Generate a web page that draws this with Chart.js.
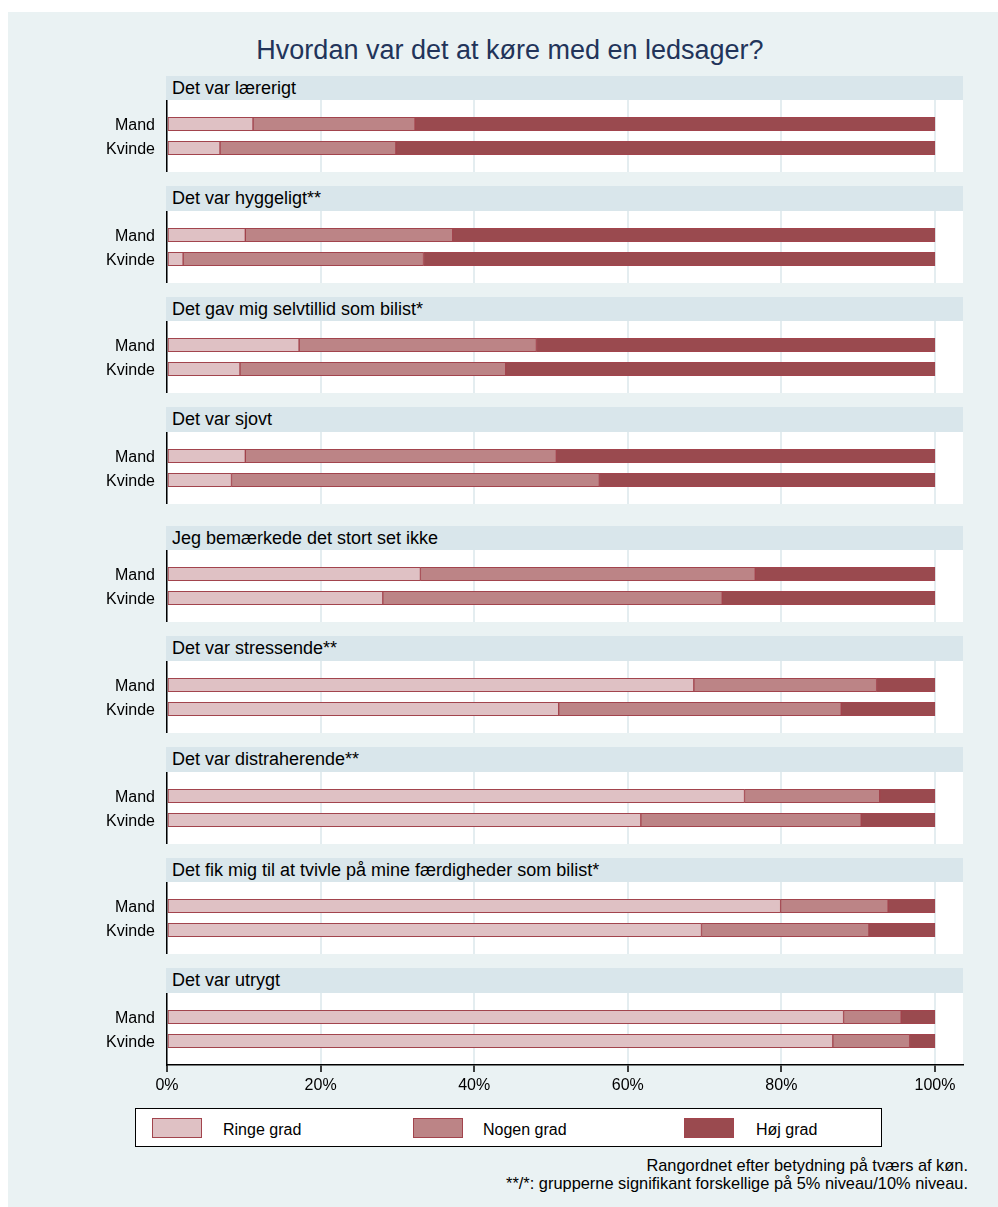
<!DOCTYPE html>
<html>
<head>
<meta charset="utf-8">
<script src="https://cdn.jsdelivr.net/npm/chart.js@4/dist/chart.umd.min.js"></script>
<style>
  body { margin: 0; background: #fff; font-family: "Liberation Sans", Arial, sans-serif; }
  #bg { position: absolute; left: 8px; top: 12px; width: 990px; height: 1195px; background: #eaf2f3; }
  #title { position: absolute; left: 210px; top: 35px; width: 600px; text-align: center;
           font-size: 27px; line-height: 30px; color: #22345a; white-space: nowrap; }
  .hdr { position: absolute; left: 166px; width: 797px; height: 24.5px; background: #d9e6eb;
         font-size: 18px; line-height: 24.5px; padding-left: 6px; box-sizing: border-box; color: #000; }
  #legend { position: absolute; left: 135px; top: 1108px; width: 747px; height: 39px;
            background: #fff; border: 1.5px solid #000; box-sizing: border-box; }
  .key { position: absolute; top: 8.5px; width: 50px; height: 20px; box-sizing: border-box; border: 1px solid #a2444d; }
  .ktxt { position: absolute; top: 10.5px; font-size: 16px; line-height: 19px; color: #000; }
  #notes { position: absolute; right: 30px; top: 1156px; text-align: right; font-size: 16.4px; line-height: 18px; color: #000; }
  canvas { position: absolute; left: 0; }
</style>
</head>
<body>
<div id="bg"></div>
<div id="title">Hvordan var det at køre med en ledsager?</div>
<div id="legend"></div>
<div id="notes">Rangordnet efter betydning på tværs af køn.<br>**/*: grupperne signifikant forskellige på 5% niveau/10% niveau.</div>

<script>
// --- data ---
const questions = [
  "Det var lærerigt",
  "Det var hyggeligt**",
  "Det gav mig selvtillid som bilist*",
  "Det var sjovt",
  "Jeg bemærkede det stort set ikke",
  "Det var stressende**",
  "Det var distraherende**",
  "Det fik mig til at tvivle på mine færdigheder som bilist*",
  "Det var utrygt",
];
const groups = ["Mand", "Kvinde"];
const levels = ["Ringe grad", "Nogen grad", "Høj grad"];

const ringeMand   = [11.2, 10.2, 17.2, 10.2, 33.0, 68.6, 75.2, 79.9, 88.1];
const ringeKvinde = [ 6.9,  2.1,  9.5,  8.4, 28.1, 51.0, 61.7, 69.6, 86.7];
const nogenMand   = [21.1, 27.0, 30.9, 40.5, 43.6, 23.8, 17.6, 14.0,  7.5];
const nogenKvinde = [22.9, 31.3, 34.6, 47.9, 44.2, 36.8, 28.7, 21.8, 10.0];
const hojMand     = [67.7, 62.8, 51.9, 49.3, 23.4,  7.6,  7.2,  6.1,  4.4];
const hojKvinde   = [70.2, 66.6, 55.9, 43.7, 27.7, 12.2,  9.6,  8.6,  3.3];

const xTicks = [0, 20, 40, 60, 80, 100];

// --- styling ---
const levelColors = ["#dfc1c4", "#bc8486", "#9a4a4f"];
const edgeColor = "#a2444d";
const headerTops = [75.5, 186, 296.5, 407, 525.7, 636.3, 747, 857.5, 968];
const HEADER_H = 24.5;
const PLOT_H = 72;
const AXIS_H = 38;
const X_MAX = 103.65;

Chart.defaults.font.family = '"Liberation Sans", Arial, sans-serif';
Chart.defaults.color = "#000";

const mandVals = [ringeMand, nogenMand, hojMand];
const kvindeVals = [ringeKvinde, nogenKvinde, hojKvinde];

const whiteArea = {
  id: "whiteArea",
  beforeDraw(chart) {
    const { ctx, chartArea: a } = chart;
    ctx.save();
    ctx.fillStyle = "#fff";
    ctx.fillRect(a.left, a.top, a.right - a.left, a.bottom - a.top);
    ctx.restore();
  },
};

function makePanel(i) {
  const last = i === questions.length - 1;

  const hdr = document.createElement("div");
  hdr.className = "hdr";
  hdr.style.top = headerTops[i] + "px";
  hdr.textContent = questions[i];
  document.body.appendChild(hdr);

  const canvas = document.createElement("canvas");
  canvas.width = 980;
  canvas.height = PLOT_H + (last ? AXIS_H : 0);
  canvas.style.top = headerTops[i] + HEADER_H + "px";
  document.body.appendChild(canvas);

  new Chart(canvas, {
    type: "bar",
    data: {
      labels: ["", ...groups, ""],
      datasets: levels.map((lv, k) => ({
        label: lv,
        data: [null, mandVals[k][i], kvindeVals[k][i], null],
        backgroundColor: levelColors[k],
        borderColor: edgeColor,
        borderWidth: 1,
        borderSkipped: false,
        barThickness: 13.5,
      })),
    },
    options: {
      indexAxis: "y",
      responsive: false,
      animation: false,
      layout: { autoPadding: false, padding: { left: 0, right: 17, top: 0, bottom: 0 } },
      plugins: { legend: { display: false }, tooltip: { enabled: false } },
      scales: {
        x: {
          type: "linear",
          stacked: true,
          min: 0,
          max: X_MAX,
          afterBuildTicks: (s) => { s.ticks = xTicks.map((v) => ({ value: v })); },
          afterFit: (s) => { s.height = last ? AXIS_H : 0; s.paddingLeft = 0; s.paddingRight = 0; },
          grid: { color: "#e4edf0", lineWidth: 2, drawTicks: last, tickLength: 7, tickColor: "#000", tickWidth: 1.5 },
          border: { display: last, color: "#000", width: 1.5 },
          ticks: { display: last, callback: (v) => v + "%", font: { size: 16 }, padding: 4, maxRotation: 0, autoSkip: false },
        },
        y: {
          stacked: true,
          offset: false,
          afterFit: (s) => { s.width = 167; s.paddingTop = 0; s.paddingBottom = 0; },
          grid: { display: false, drawTicks: false },
          border: { display: true, color: "#000", width: 1.5 },
          ticks: { font: { size: 16 }, padding: 12, autoSkip: false, labelOffset: 2 },
        },
      },
    },
    plugins: [whiteArea],
  });
}

questions.forEach((q, i) => makePanel(i));

// --- legend ---
const legend = document.getElementById("legend");
const keyLeft = [16, 277, 548];
const textLeft = [87, 347, 620];
levels.forEach((lv, k) => {
  const sw = document.createElement("div");
  sw.className = "key";
  sw.style.left = keyLeft[k] + "px";
  sw.style.background = levelColors[k];
  legend.appendChild(sw);
  const t = document.createElement("div");
  t.className = "ktxt";
  t.style.left = textLeft[k] + "px";
  t.textContent = lv;
  legend.appendChild(t);
});
</script>
</body>
</html>
